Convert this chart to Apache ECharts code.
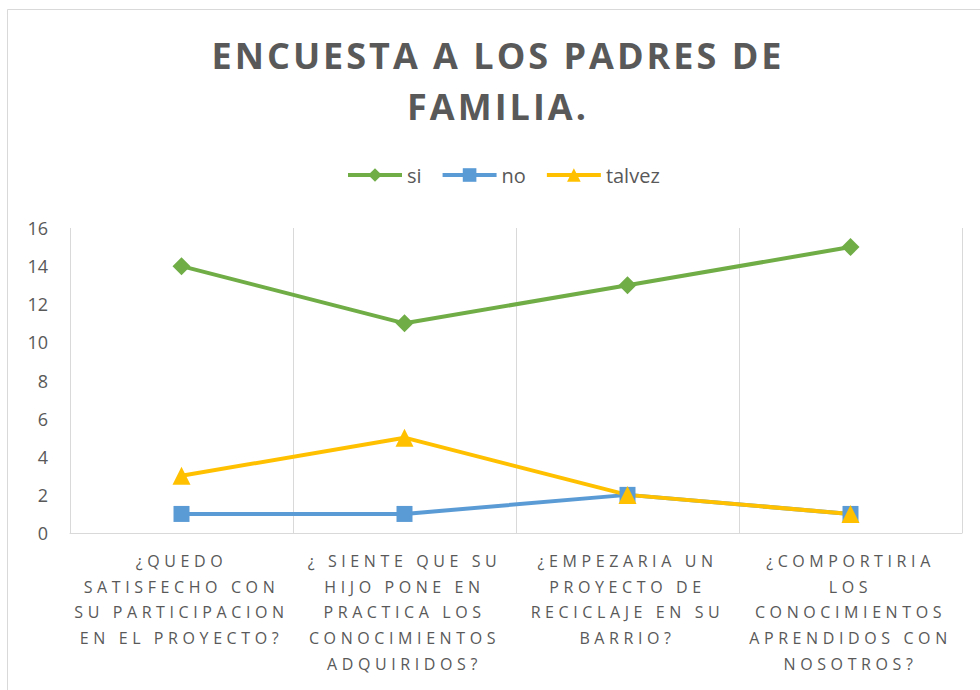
<!DOCTYPE html>
<html>
<head>
<meta charset="utf-8">
<script src="https://cdn.jsdelivr.net/npm/echarts@6/dist/echarts.min.js"></script>
<style>
  html, body { margin: 0; padding: 0; background: #fff; }
  #chart { width: 980px; height: 690px; }
  /* spaced-out capitals, like the original */
  #chart text[style*="36px"] { letter-spacing: 3px; }
  #chart text[style*="16px"] { letter-spacing: 4.6px; }
</style>
</head>
<body>
<div id="chart"></div>
<script>
var categories = [
  '¿QUEDO\nSATISFECHO CON\nSU PARTICIPACION\nEN EL PROYECTO?',
  '¿ SIENTE QUE SU\nHIJO PONE EN\nPRACTICA LOS\nCONOCIMIENTOS\nADQUIRIDOS?',
  '¿EMPEZARIA UN\nPROYECTO DE\nRECICLAJE EN SU\nBARRIO?',
  '¿COMPORTIRIA\nLOS\nCONOCIMIENTOS\nAPRENDIDOS CON\nNOSOTROS?'
];
var si = [14, 11, 13, 15];
var no = [1, 1, 2, 1];
var talvez = [3, 5, 2, 1];

var txt = '#595959';
var gridColor = '#d9d9d9';
var font = "'Open Sans', sans-serif";

function serie(name, data, color, symbol, size) {
  return {
    name: name,
    type: 'line',
    data: data,
    symbol: symbol,
    symbolSize: size,
    lineStyle: { color: color, width: 4 },
    itemStyle: { color: color },
    emphasis: { disabled: true }
  };
}

var chart = echarts.init(document.getElementById('chart'), null, { renderer: 'svg' });
chart.setOption({
  animation: false,
  textStyle: { fontFamily: font },
  title: {
    text: 'ENCUESTA A LOS PADRES DE\nFAMILIA.',
    left: 498,
    top: 30,
    textAlign: 'center',
    padding: 0,
    textStyle: { color: txt, fontSize: 36, fontWeight: 'bold', lineHeight: 51, fontFamily: font }
  },
  legend: {
    top: 165,
    left: 346,
    padding: 0,
    itemWidth: 54,
    itemHeight: 17,
    itemGap: 19,
    lineStyle: { width: 4 },
    textStyle: { color: txt, fontSize: 20, fontFamily: font },
    data: ['si', 'no', 'talvez']
  },
  graphic: [{
    type: 'rect',
    shape: { x: 7.5, y: 9.5, width: 1000, height: 700 },
    style: { fill: 'none', stroke: gridColor, lineWidth: 1 },
    silent: true
  }],
  grid: { left: 70, right: 18, top: 228, bottom: 157 },
  xAxis: {
    type: 'category',
    data: categories,
    boundaryGap: true,
    axisLine: { lineStyle: { color: gridColor, width: 1 } },
    axisTick: { show: false },
    splitLine: { show: true, interval: 0, lineStyle: { color: gridColor, width: 1 } },
    axisLabel: { interval: 0, color: txt, fontSize: 16, lineHeight: 25.7, margin: 15, fontFamily: font }
  },
  yAxis: {
    type: 'value',
    min: 0,
    max: 16,
    interval: 2,
    axisLine: { show: false },
    axisTick: { show: false },
    splitLine: { show: false },
    axisLabel: { color: txt, fontSize: 18, margin: 22, fontFamily: font }
  },
  series: [
    serie('si', si, '#70ad47', 'diamond', 18),
    serie('no', no, '#5b9bd5', 'rect', 16),
    serie('talvez', talvez, '#ffc000', 'triangle', 18)
  ]
});
</script>
</body>
</html>
